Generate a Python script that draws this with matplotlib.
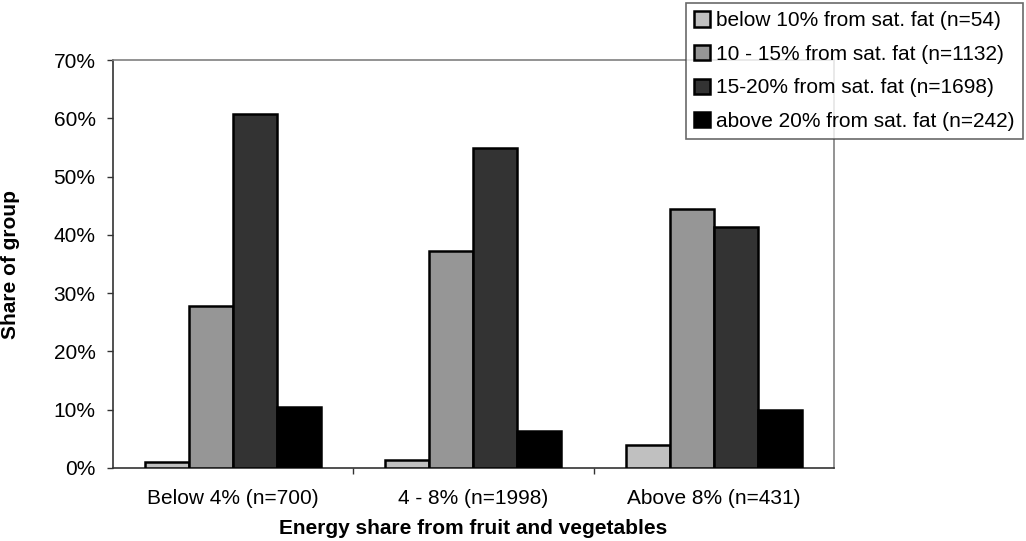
import numpy as np
import matplotlib.pyplot as plt
from matplotlib.ticker import PercentFormatter

plt.rcParams['font.family'] = ['Liberation Sans', 'DejaVu Sans']

# Data (share of group, %)
groups = ['Below 4% (n=700)', '4 - 8% (n=1998)', 'Above 8% (n=431)']
series_labels = ['below 10% from sat. fat (n=54)',
                 '10 - 15% from sat. fat (n=1132)',
                 '15-20% from sat. fat (n=1698)',
                 'above 20% from sat. fat (n=242)']
below10 = [1.0, 1.3, 4.0]
from10to15 = [27.8, 37.3, 44.5]
from15to20 = [60.7, 54.9, 41.3]
above20 = [10.4, 6.3, 10.0]
colors = ['#C0C0C0', '#969696', '#333333', '#000000']

fig = plt.figure(figsize=(10.26, 5.41), dpi=100)
ax = fig.add_axes([0.1101, 0.135, 0.7027, 0.754])

x = np.arange(len(groups))
width = 0.183
all_series = [below10, from10to15, from15to20, above20]
for i, (vals, lab, col) in enumerate(zip(all_series, series_labels, colors)):
    ax.bar(x + (i - 1.5) * width, vals, width, color=col, edgecolor='black',
           linewidth=1.8, label=lab, zorder=3)

ax.set_xlim(-0.5, 2.5)
ax.set_ylim(0, 70)
ax.set_yticks(range(0, 71, 10))
ax.yaxis.set_major_formatter(PercentFormatter(decimals=0))
ax.set_xticks(x)
ax.set_xticklabels(groups)
ax.set_xticks([0.5, 1.5], minor=True)
ax.tick_params(axis='x', which='major', length=0, pad=15, labelsize=15)
ax.tick_params(axis='x', which='minor', length=4, direction='out', width=1, color='#333333')
ax.tick_params(axis='y', length=4.5, width=1, direction='out', labelsize=15, pad=8, color='#333333')

for side in ['top', 'right']:
    ax.spines[side].set_color('#808080')
    ax.spines[side].set_linewidth(1.2)
for side in ['left', 'bottom']:
    ax.spines[side].set_color('#333333')
    ax.spines[side].set_linewidth(1.2)

fig.text(0.4615, 0.024, 'Energy share from fruit and vegetables', fontsize=15,
         fontweight='bold', ha='center', va='center')
fig.text(0.0107, 0.512, 'Share of group', fontsize=15, fontweight='bold',
         rotation=90, ha='center', va='center')

leg = fig.legend(loc='upper left', bbox_to_anchor=(686 / 1026, 1 - 3 / 541), borderaxespad=0,
                 fontsize=15, frameon=True, fancybox=False, edgecolor='#444444',
                 handlelength=0.75, handleheight=0.75, handletextpad=0.3,
                 borderpad=0.4, labelspacing=0.7)
leg.get_frame().set_linewidth(1.2)

plt.savefig('out.png', dpi=100)
